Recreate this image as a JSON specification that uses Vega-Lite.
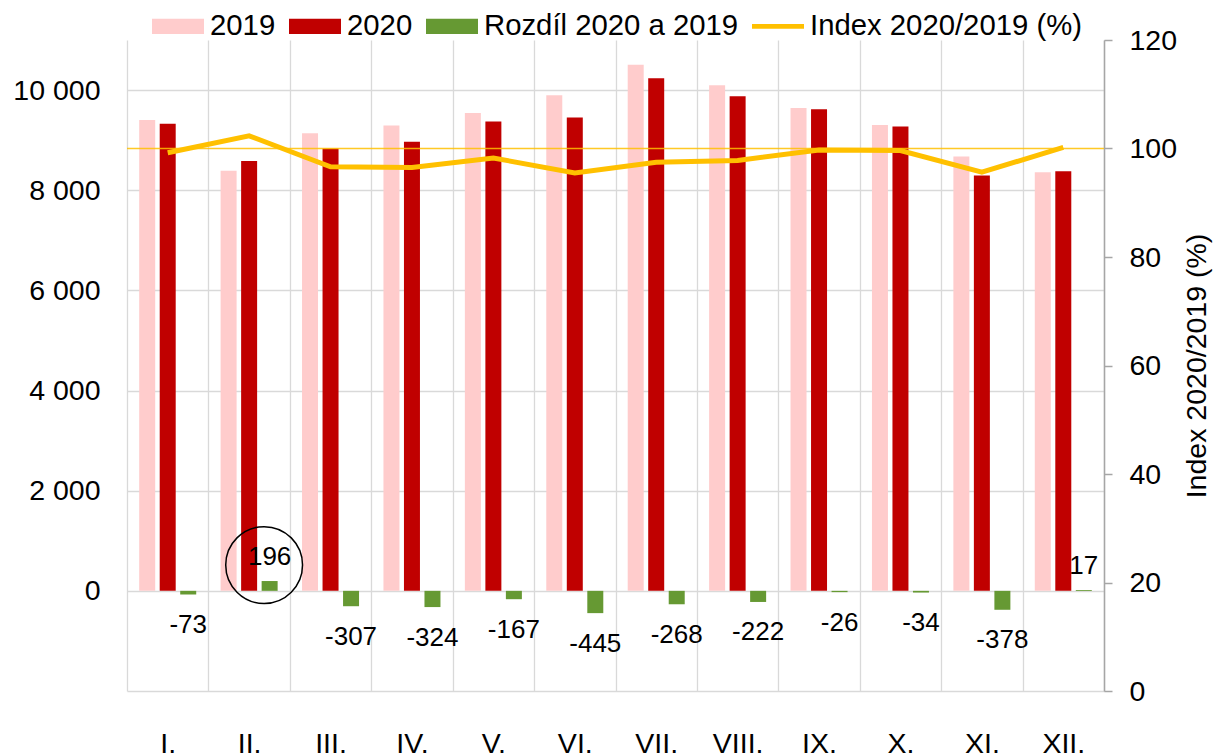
{
  "$schema": "https://vega.github.io/schema/vega-lite/v6.json",
  "width": 977,
  "height": 651,
  "autosize": {"type": "none"},
  "padding": {"left": 127, "top": 40, "right": 110, "bottom": 64},
  "background": "#ffffff",
  "config": {
    "font": "Liberation Sans",
    "view": {"stroke": null},
    "locale": {"number": {"decimal": ",", "thousands": " ", "grouping": [3], "currency": ["", " Kč"], "minus": "-"}},
    "axis": {"labelFont": "Liberation Sans", "labelFontSize": 28.5, "labelColor": "#000000", "titleFont": "Liberation Sans", "titleFontSize": 28.5, "titleColor": "#000000", "titleFontWeight": "normal"},
    "text": {"font": "Liberation Sans", "fontSize": 26, "color": "#000000"}
  },
  "datasets": {
    "bars": [
      {"month": "I.", "series": "2019", "value": 9401},
      {"month": "I.", "series": "2020", "value": 9328},
      {"month": "I.", "series": "Rozdíl 2020 a 2019", "value": -73},
      {"month": "II.", "series": "2019", "value": 8388},
      {"month": "II.", "series": "2020", "value": 8584},
      {"month": "II.", "series": "Rozdíl 2020 a 2019", "value": 196},
      {"month": "III.", "series": "2019", "value": 9140},
      {"month": "III.", "series": "2020", "value": 8833},
      {"month": "III.", "series": "Rozdíl 2020 a 2019", "value": -307},
      {"month": "IV.", "series": "2019", "value": 9293},
      {"month": "IV.", "series": "2020", "value": 8969},
      {"month": "IV.", "series": "Rozdíl 2020 a 2019", "value": -324},
      {"month": "V.", "series": "2019", "value": 9541},
      {"month": "V.", "series": "2020", "value": 9374},
      {"month": "V.", "series": "Rozdíl 2020 a 2019", "value": -167},
      {"month": "VI.", "series": "2019", "value": 9898},
      {"month": "VI.", "series": "2020", "value": 9453},
      {"month": "VI.", "series": "Rozdíl 2020 a 2019", "value": -445},
      {"month": "VII.", "series": "2019", "value": 10506},
      {"month": "VII.", "series": "2020", "value": 10238},
      {"month": "VII.", "series": "Rozdíl 2020 a 2019", "value": -268},
      {"month": "VIII.", "series": "2019", "value": 10098},
      {"month": "VIII.", "series": "2020", "value": 9876},
      {"month": "VIII.", "series": "Rozdíl 2020 a 2019", "value": -222},
      {"month": "IX.", "series": "2019", "value": 9641},
      {"month": "IX.", "series": "2020", "value": 9615},
      {"month": "IX.", "series": "Rozdíl 2020 a 2019", "value": -26},
      {"month": "X.", "series": "2019", "value": 9305},
      {"month": "X.", "series": "2020", "value": 9271},
      {"month": "X.", "series": "Rozdíl 2020 a 2019", "value": -34},
      {"month": "XI.", "series": "2019", "value": 8674},
      {"month": "XI.", "series": "2020", "value": 8296},
      {"month": "XI.", "series": "Rozdíl 2020 a 2019", "value": -378},
      {"month": "XII.", "series": "2019", "value": 8361},
      {"month": "XII.", "series": "2020", "value": 8378},
      {"month": "XII.", "series": "Rozdíl 2020 a 2019", "value": 17}
    ],
    "idx": [
      {"month": "I.", "index": 99.22},
      {"month": "II.", "index": 102.34},
      {"month": "III.", "index": 96.64},
      {"month": "IV.", "index": 96.51},
      {"month": "V.", "index": 98.25},
      {"month": "VI.", "index": 95.5},
      {"month": "VII.", "index": 97.45},
      {"month": "VIII.", "index": 97.8},
      {"month": "IX.", "index": 99.73},
      {"month": "X.", "index": 99.63},
      {"month": "XI.", "index": 95.64},
      {"month": "XII.", "index": 100.2}
    ]
  },
  "layer": [
    {
      "data": {"name": "bars"},
      "encoding": {
        "x": {
          "field": "month", "type": "nominal",
          "sort": ["I.", "II.", "III.", "IV.", "V.", "VI.", "VII.", "VIII.", "IX.", "X.", "XI.", "XII."],
          "scale": {"domain": ["I.", "II.", "III.", "IV.", "V.", "VI.", "VII.", "VIII.", "IX.", "X.", "XI.", "XII."], "paddingInner": 0, "paddingOuter": 0},
          "axis": {"title": null, "labelAngle": 0, "ticks": false, "tickBand": "extent", "grid": true, "gridColor": "#D9D9D9", "gridWidth": 1.3, "domainColor": "#D9D9D9", "domainWidth": 1.5, "labelPadding": 38}
        },
        "y": {
          "field": "value", "type": "quantitative",
          "scale": {"domain": [-2000, 11000], "nice": false, "zero": false},
          "axis": {"title": null, "values": [0, 2000, 4000, 6000, 8000, 10000], "format": ",d", "domain": false, "ticks": false, "labelPadding": 27, "grid": true, "gridColor": "#D9D9D9", "gridWidth": 1.3}
        }
      },
      "layer": [
        {
          "mark": {"type": "bar"},
          "encoding": {
            "xOffset": {
              "field": "series", "type": "nominal",
              "sort": ["2019", "2020", "Rozdíl 2020 a 2019"],
              "scale": {"domain": ["2019", "2020", "Rozdíl 2020 a 2019"], "paddingInner": 0.22, "paddingOuter": 0.595}
            },
            "color": {
              "field": "series", "type": "nominal",
              "scale": {"domain": ["2019", "2020", "Rozdíl 2020 a 2019", "Index 2020/2019 (%)"], "range": ["#FFCCCC", "#C00000", "#669933", "#FFC000"]},
              "legend": {
                "orient": "none", "legendX": 25, "legendY": -40, "direction": "horizontal", "title": null,
                "labelFont": "Liberation Sans", "labelFontSize": 29.3, "labelColor": "#000000", "labelLimit": 600,
                "labelOffset": 6, "columnPadding": 13, "symbolSize": 2704, "padding": 0,
                "encode": {
                  "symbols": {
                    "update": {
                      "shape": {"signal": "datum.label === 'Index 2020/2019 (%)' ? 'M-1,-0.09H1V0.09H-1Z' : 'M-1,-0.29H1V0.29H-1Z'"},
                      "fill": {"scale": "color", "field": "value"},
                      "stroke": {"value": "transparent"},
                      "strokeWidth": {"value": 0},
                      "opacity": {"value": 1}
                    }
                  }
                }
              }
            }
          }
        },
        {
          "transform": [{"filter": "datum.series === 'Rozdíl 2020 a 2019' && datum.value < 0"}],
          "mark": {"type": "text", "dy": 30.5, "baseline": "middle", "align": "center", "fontSize": 26, "color": "#000000"},
          "encoding": {
            "xOffset": {"field": "series", "type": "nominal", "sort": ["2019", "2020", "Rozdíl 2020 a 2019"]},
            "text": {"field": "value", "type": "quantitative", "format": "d"}
          }
        },
        {
          "transform": [{"filter": "datum.series === 'Rozdíl 2020 a 2019' && datum.value >= 0"}],
          "mark": {"type": "text", "dy": -24, "baseline": "middle", "align": "center", "fontSize": 26, "color": "#000000"},
          "encoding": {
            "xOffset": {"field": "series", "type": "nominal", "sort": ["2019", "2020", "Rozdíl 2020 a 2019"]},
            "text": {"field": "value", "type": "quantitative", "format": "d"}
          }
        },
        {
          "transform": [{"filter": "datum.month === 'II.' && datum.series === 'Rozdíl 2020 a 2019'"}],
          "mark": {"type": "point", "shape": "circle", "filled": false, "size": 5900, "stroke": "#000000", "strokeWidth": 1.5, "opacity": 1, "xOffset": 15, "yOffset": -16}
        }
      ]
    },
    {
      "layer": [
        {
          "data": {"values": [{"reference": 100}]},
          "mark": {"type": "rule", "color": "#FFC000", "strokeWidth": 1.5, "opacity": 0.85},
          "encoding": {
            "y": {
              "field": "reference", "type": "quantitative",
              "scale": {"domain": [0, 120], "nice": false},
              "axis": {"orient": "right", "title": "Index 2020/2019 (%)", "values": [0, 20, 40, 60, 80, 100, 120], "grid": false, "domain": true, "domainColor": "#A6A6A6", "domainWidth": 1.5, "ticks": true, "tickColor": "#A6A6A6", "tickWidth": 1.5, "tickSize": 8, "labelPadding": 17, "titleAngle": 270, "titleBaseline": "top", "titlePadding": 6}
            }
          }
        },
        {
          "data": {"name": "idx"},
          "mark": {"type": "line", "strokeWidth": 5, "strokeJoin": "miter"},
          "encoding": {
            "x": {
              "field": "month", "type": "nominal",
              "sort": ["I.", "II.", "III.", "IV.", "V.", "VI.", "VII.", "VIII.", "IX.", "X.", "XI.", "XII."],
              "axis": {"title": null, "labelAngle": 0, "ticks": false, "tickBand": "extent", "grid": true, "gridColor": "#D9D9D9", "gridWidth": 1.3, "domainColor": "#D9D9D9", "domainWidth": 1.5, "labelPadding": 38}
            },
            "y": {
              "field": "index", "type": "quantitative",
              "scale": {"domain": [0, 120], "nice": false},
              "axis": {"orient": "right", "title": "Index 2020/2019 (%)", "values": [0, 20, 40, 60, 80, 100, 120], "grid": false, "domain": true, "domainColor": "#A6A6A6", "domainWidth": 1.5, "ticks": true, "tickColor": "#A6A6A6", "tickWidth": 1.5, "tickSize": 8, "labelPadding": 17, "titleAngle": 270, "titleBaseline": "top", "titlePadding": 6}
            },
            "color": {"datum": "Index 2020/2019 (%)", "legend": null}
          }
        }
      ]
    }
  ],
  "resolve": {"scale": {"y": "independent"}}
}
